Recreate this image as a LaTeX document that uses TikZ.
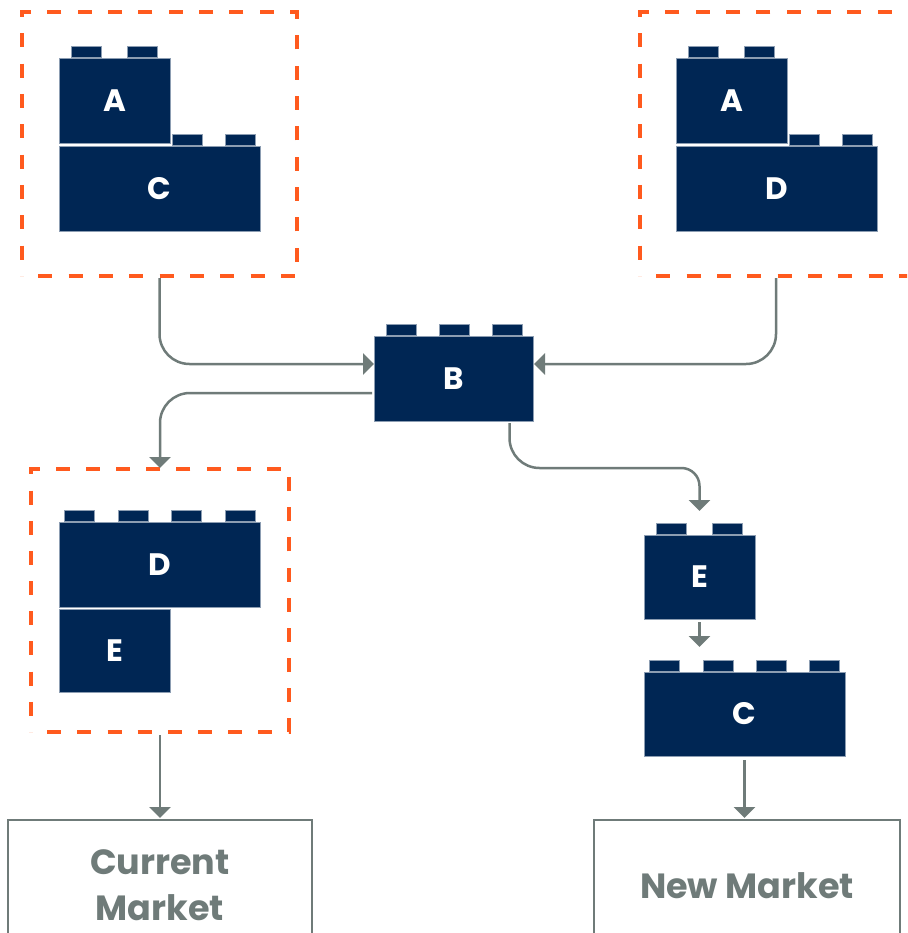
\documentclass[tikz,border=0pt]{standalone}
\usepackage{fontspec}
\setmainfont{Poppins}
\usetikzlibrary{arrows.meta,calc,decorations}
\definecolor{navy}{HTML}{002654}
\definecolor{orng}{HTML}{FF5A1E}
\definecolor{gry}{HTML}{6F7B79}
\newcommand\mystuds[2]{\foreach \o in {#2}{\fill[navy,draw=navy!45!white,line width=0.5pt] ($(#1.north west)+(\o,-12)$) rectangle ++(30,11);}}
\begin{document}
\begin{tikzpicture}[x=1pt,y=-1pt,
  brick/.style={rectangle, fill=navy, draw=navy!45!white, line width=0.7pt, inner sep=0pt, outer sep=0pt,
    minimum height=85pt, text=white, font=\fontsize{31}{36}\selectfont\bfseries},
  dashbox/.style={rectangle, draw=orng, line width=3.5pt, dash pattern=on 14pt off 16pt, dash expand off,
    inner sep=0pt, outer sep=0pt},
  market/.style={rectangle, draw=gry, line width=2pt, inner sep=0pt, outer sep=0pt, text=gry, align=center,
    font=\fontsize{35}{46}\selectfont\bfseries},
  conn/.style={draw=gry, line width=2.5pt, -{Triangle[length=11pt,width=21pt]}},
]
\clip (0,0) rectangle (907,933);
\fill[white] (0,0) rectangle (907,933);

% dashed groups
\node[dashbox, minimum width=275pt, minimum height=264pt] (G1) at (159.5,144) {};
\node[dashbox, minimum width=275pt, minimum height=264pt] (G2) at (777.5,144) {};
\node[dashbox, minimum width=258pt, minimum height=263pt] (G3) at (160,600.5) {};

% group 1
\node[brick, minimum width=111pt] (A1) at (114.5,100.5) {A};
\node[brick, minimum width=201pt] (C1) at (159.5,188.5) {C};
\mystuds{A1}{12,68}
\mystuds{C1}{113,166}

% group 2
\node[brick, minimum width=111pt] (A2) at (731.5,100.5) {A};
\node[brick, minimum width=201pt] (D2) at (776.5,188.5) {D};
\mystuds{A2}{12,68}
\mystuds{D2}{113,166}

% B
\node[brick, minimum width=159pt] (B) at (453.5,378.5) {B};
\mystuds{B}{12,65,118}

% group 3
\node[brick, minimum width=201pt] (D3) at (159.5,564.5) {D};
\node[brick, minimum width=111pt, minimum height=83pt] (E3) at (114.5,650.5) {E};
\mystuds{D3}{5,59,112,166}

% right chain
\node[brick, minimum width=111pt, minimum height=84pt] (E4) at (699.5,577) {E};
\mystuds{E4}{12,68}
\node[brick, minimum width=201pt, minimum height=84pt] (C4) at (744.5,714) {C};
\mystuds{C4}{5,59,112,165}

% markets
\node[market, minimum width=304pt, minimum height=131pt] (CM) at (160,885.5) {Current\\Market};
\node[market, minimum width=306pt, minimum height=132pt] (NM) at (747,886) {New Market};

% connectors
\draw[conn, rounded corners=30pt] ($(G1.south)+(0,2)$) |- ($(B.west)+(0,-14.5)$);
\draw[conn, rounded corners=30pt] ($(G2.south west)+(136,2)$) |- ($(B.east)+(1,-14.5)$);
\draw[conn, rounded corners=30pt] ($(B.west)+(-2,14.5)$) -| ($(G3.north)+(0,-1)$);
\draw[conn, rounded corners=30pt] ($(B.south)+(56,2)$) -- ++(0,45) [rounded corners=18pt] -| ($(E4.north)+(0,-24)$);
\draw[conn, shorten >=25pt] ($(E4.south)+(0,3)$) -- (E4.south |- C4.north);
\draw[conn] ($(C4.south)+(0,4)$) -- ($(C4.south |- NM.north)+(0,-2)$);
\draw[conn] ($(G3.south)+(0,3)$) -- ($(G3.south |- CM.north)+(0,-2)$);
\end{tikzpicture}
\end{document}
